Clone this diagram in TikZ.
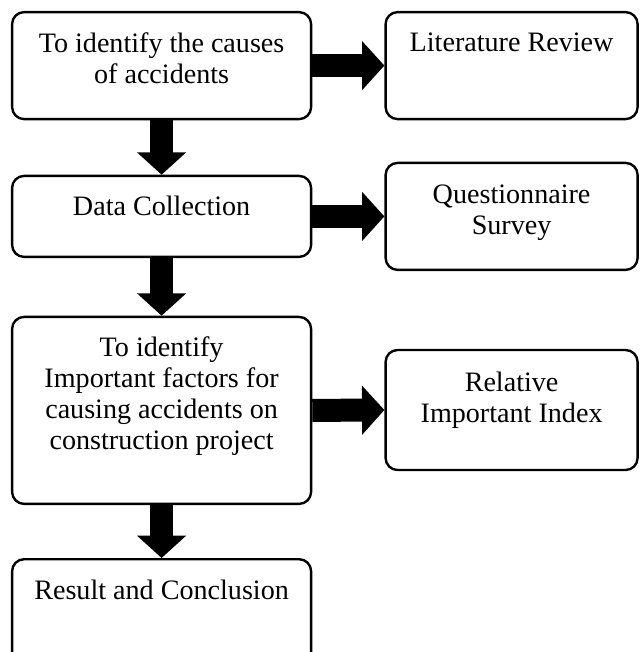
\documentclass[tikz,border=0pt]{standalone}
\usepackage{fontspec}
\setmainfont{Liberation Serif}
\usepackage{tikz}
\usetikzlibrary{arrows.meta,positioning}

\begin{document}
\begin{tikzpicture}[font=\fontsize{20}{22}\selectfont,
  box/.style={draw, line width=1.7pt, rounded corners=0.3cm},
  wide/.style={box, minimum width=7.475cm},
  side/.style={box, minimum width=6.3cm},
  txt/.style={anchor=north, align=center, inner sep=0pt, yshift=-0.53cm},
  flow/.style={line width=0.575cm, -{Triangle[width=1.2cm, length=0.56cm]}}]
\useasboundingbox (0,0) rectangle (16,-16.3);
% --- left column ---
\node[wide, minimum height=2.675cm] (b1) at (4.04,-1.64) {};
\node[txt] at (b1.north) {To identify the causes\\of accidents};
\node[wide, minimum height=2.025cm] (b2) at (4.04,-5.41) {};
\node[txt] at (b2.north) {Data Collection};
\node[wide, minimum height=4.675cm] (b3) at (4.04,-10.26) {};
\node[txt] at (b3.north) {To identify\\Important factors for\\causing accidents on\\construction project};
\node[wide, minimum height=2.7cm] (b4) at (4.04,-15.33) {};
\node[txt] at (b4.north) {Result and Conclusion};
% --- right column ---
\node[side, minimum height=2.675cm] (r1) at (12.79,-1.64) {};
\node[txt] at (r1.north) {Literature Review};
\node[side, minimum height=2.675cm] (r2) at (12.79,-5.41) {};
\node[txt, yshift=-0.05cm] at (r2.north) {Questionnaire\\Survey};
\node[side, minimum height=3.0cm] (r3) at (12.79,-10.25) {};
\node[txt, yshift=-0.05cm] at (r3.north) {Relative\\Important Index};
% --- arrows ---
\draw[flow] (b1.south) -- (b2.north);
\draw[flow] (b2.south) -- (b3.north);
\draw[flow] (b3.south) -- (b4.north);
\draw[flow] (b1.east) -- (r1.west);
\draw[flow] (b2.east) -- (r2.west);
\draw[flow] (b3.east) -- (r3.west);
\end{tikzpicture}
\end{document}
